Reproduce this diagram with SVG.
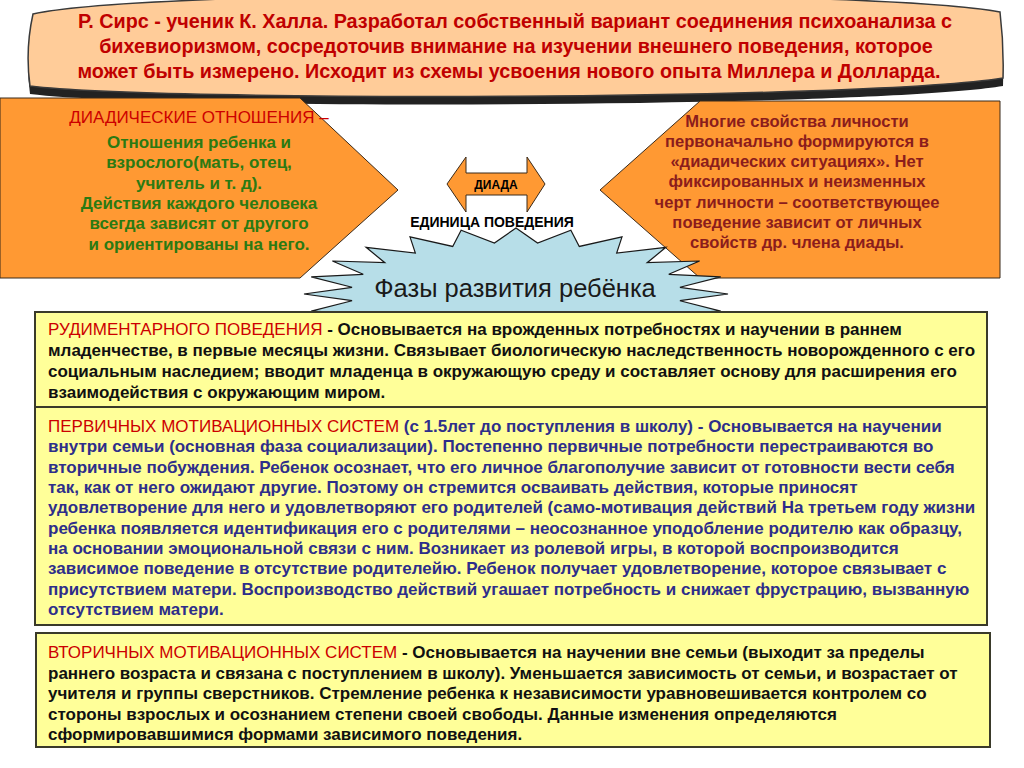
<svg xmlns="http://www.w3.org/2000/svg" width="1024" height="768" viewBox="0 0 1024 768">
<style>
.t{font-family:"Liberation Sans",Arial,sans-serif}
.hd{fill:#C00000;font-weight:bold;font-size:19.8px}
.lt{fill:#2B7A12;font-weight:bold;font-size:17px}
.rt{fill:#8B1C1C;font-weight:bold;font-size:16.6px}
.bx{fill:#FFFF99;stroke:#3A3A2A;stroke-width:2}
.bt{font-size:17px;font-weight:bold}
.red{fill:#CC0000;font-weight:normal}
.orange{fill:#FF9933;stroke:#3A2A1A;stroke-width:1}
</style>
<rect width="1024" height="768" fill="#FFFFFF"/>
<g id="intro">
<path d="M33,18 C150,-8 870,-8 1000,16 Q1004,48 1003,82 C870,104 160,106 30,90 Q25,55 33,18 Z" fill="#222" transform="translate(0,4)"/>
<path d="M33,14 C150,-12 870,-12 1000,12 Q1004,45 1003,78 C870,100 160,102 30,86 Q25,50 33,14 Z" fill="#FFCC99" stroke="#3A3A3A" stroke-width="1.5"/>
<text class="t hd" text-anchor="middle"><tspan x="515" y="28">Р. Сирс - ученик К. Халла. Разработал собственный вариант соединения психоанализа с</tspan><tspan x="516" y="53">бихевиоризмом, сосредоточив внимание на изучении внешнего поведения, которое</tspan><tspan x="509" y="78">может быть измерено. Исходит из схемы усвоения нового опыта Миллера и Долларда.</tspan></text>
</g>
<g id="dyadic-relations">
<path class="orange" d="M0,98 L300,98 L398,190 L300,278 L0,278 Z"/>
<text class="t" text-anchor="middle" x="199" y="123" fill="#CC0000" font-size="17">ДИАДИЧЕСКИЕ ОТНОШЕНИЯ –</text>
<text class="t lt" text-anchor="middle"><tspan x="199" y="148">Отношения ребенка и</tspan><tspan x="199" y="168">взрослого(мать, отец,</tspan><tspan x="199" y="189">учитель и т. д).</tspan><tspan x="199" y="209">Действия каждого человека</tspan><tspan x="199" y="229">всегда зависят от другого</tspan><tspan x="199" y="250">и ориентированы на него.</tspan></text>
</g>
<g id="dyadic-situations">
<path class="orange" d="M1000,101 L700,101 L600,190 L700,278 L1000,278 Z"/>
<text class="t rt" text-anchor="middle"><tspan x="797" y="127">Многие свойства личности</tspan><tspan x="797" y="147">первоначально формируются в</tspan><tspan x="797" y="167">«диадических ситуациях». Нет</tspan><tspan x="797" y="187">фиксированных и неизменных</tspan><tspan x="797" y="208">черт личности – соответствующее</tspan><tspan x="797" y="228">поведение  зависит от личных</tspan><tspan x="797" y="248">свойств др. члена диады.</tspan></text>
</g>
<g id="dyad">
<path class="orange" d="M447,184 L466,157 L466,173 L527,173 L527,157 L545,184 L527,212 L527,195 L466,195 L466,212 Z"/>
<text class="t" x="496" y="189" text-anchor="middle" font-size="12" font-weight="bold" fill="#000">ДИАДА</text>
<text class="t" x="492" y="227" text-anchor="middle" font-size="14" font-weight="bold" fill="#000">ЕДИНИЦА ПОВЕДЕНИЯ</text>
</g>
<g id="phases">
<path transform="translate(516,294) scale(212,66)" vector-effect="non-scaling-stroke" fill="#B7DEE8" stroke="#1A1A1A" stroke-width="1.2" d="M1,0 L.7733,.1018 .9659,.2588 .7206,.2985 .866,.5 .6188,.4748 .7071,.7071 .4748,.6188 .5,.866 .2985,.7206 .2588,.9659 .1018,.7733 0,1 -.1018,.7733 -.2588,.9659 -.2985,.7206 -.5,.866 -.4748,.6188 -.7071,.7071 -.6188,.4748 -.866,.5 -.7206,.2985 -.9659,.2588 -.7733,.1018 -1,0 -.7733,-.1018 -.9659,-.2588 -.7206,-.2985 -.866,-.5 -.6188,-.4748 -.7071,-.7071 -.4748,-.6188 -.5,-.866 -.2985,-.7206 -.2588,-.9659 -.1018,-.7733 0,-1 .1018,-.7733 .2588,-.9659 .2985,-.7206 .5,-.866 .4748,-.6188 .7071,-.7071 .6188,-.4748 .866,-.5 .7206,-.2985 .9659,-.2588 .7733,-.1018 Z"/>
<text class="t" x="515" y="297" text-anchor="middle" font-size="25.5" fill="#1A1A1A">Фазы развития ребёнка</text>
</g>
<g id="rudimentary">
<rect class="bx" x="35" y="312" width="952" height="95"/>
<text class="t bt" fill="#111"><tspan x="48" y="335"><tspan class="red">РУДИМЕНТАРНОГО ПОВЕДЕНИЯ</tspan> - Основывается на врожденных потребностях и научении в раннем</tspan><tspan x="48" y="356">младенчестве, в первые месяцы жизни. Связывает биологическую наследственность новорожденного с его</tspan><tspan x="48" y="377">социальным наследием; вводит младенца в окружающую среду и составляет основу для расширения его</tspan><tspan x="48" y="398">взаимодействия с окружающим миром.</tspan></text>
</g>
<g id="primary">
<rect class="bx" x="35" y="407" width="952" height="218"/>
<text class="t bt" fill="#2E2E8A"><tspan x="48" y="432"><tspan class="red">ПЕРВИЧНЫХ МОТИВАЦИОННЫХ СИСТЕМ</tspan> (с 1.5лет до поступления в школу) - Основывается на научении</tspan><tspan x="48" y="452.3">внутри семьи (основная фаза социализации). Постепенно первичные потребности перестраиваются во</tspan><tspan x="48" y="472.7">вторичные побуждения. Ребенок осознает, что его личное благополучие зависит от готовности вести себя</tspan><tspan x="48" y="493">так, как от него ожидают другие. Поэтому он стремится осваивать действия, которые приносят</tspan><tspan x="48" y="513.3">удовлетворение для него и удовлетворяют его родителей (само-мотивация действий На третьем году жизни</tspan><tspan x="48" y="533.7">ребенка появляется идентификация его с родителями – неосознанное уподобление родителю как образцу,</tspan><tspan x="48" y="554">на основании эмоциональной связи с ним. Возникает из ролевой игры, в которой воспроизводится</tspan><tspan x="48" y="574.3">зависимое поведение в отсутствие родителейю. Ребенок получает удовлетворение, которое связывает с</tspan><tspan x="48" y="594.7">присутствием матери. Воспроизводство действий угашает потребность и снижает фрустрацию, вызванную</tspan><tspan x="48" y="615">отсутствием матери.</tspan></text>
</g>
<g id="secondary">
<rect class="bx" x="36" y="633" width="954" height="114"/>
<text class="t bt" fill="#111"><tspan x="48" y="658"><tspan class="red">ВТОРИЧНЫХ МОТИВАЦИОННЫХ СИСТЕМ</tspan> - Основывается на научении вне семьи (выходит за пределы</tspan><tspan x="48" y="678.5">раннего возраста и связана с поступлением в школу). Уменьшается зависимость от семьи, и возрастает от</tspan><tspan x="48" y="699">учителя и группы сверстников. Стремление ребенка к независимости уравновешивается контролем со</tspan><tspan x="48" y="719.5">стороны взрослых и осознанием степени своей свободы. Данные изменения определяются</tspan><tspan x="48" y="740">сформировавшимися формами зависимого поведения.</tspan></text>
</g>
<g id="connectors"></g>
</svg>
